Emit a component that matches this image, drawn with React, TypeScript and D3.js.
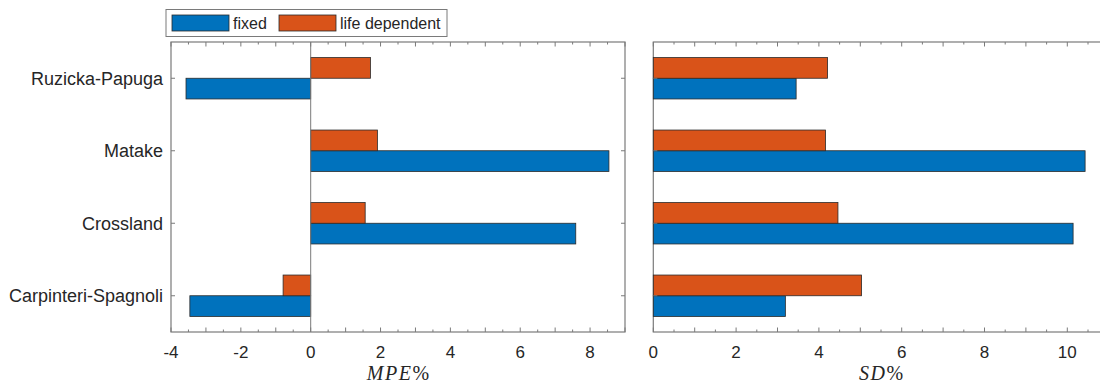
import * as d3 from "d3"

// data
const categories = ["Carpinteri-Spagnoli", "Crossland", "Matake", "Ruzicka-Papuga"]
const seriesNames = ["fixed", "life dependent"]
const mpeFixed = [-3.46, 7.59, 8.54, -3.57]
const mpeLife = [-0.79, 1.56, 1.91, 1.71]
const sdFixed = [3.19, 10.14, 10.43, 3.45]
const sdLife = [5.03, 4.46, 4.16, 4.21]
const mpeTicks = [-4, -2, 0, 2, 4, 6, 8]
const sdTicks = [0, 2, 4, 6, 8, 10]

const colors = ["#0072BD", "#D95319"]
const axisColor = "#7a7a7a"
const W = 1100
const H = 386
const top = 42
const bottom = 332

function Panel({x0, x1, domain, ticks, fixed, life, label, showCats}: any) {
    const x = d3.scaleLinear().domain(domain).range([x0, x1])
    const y = d3.scaleLinear().domain([0.5, 4.5]).range([bottom, top])
    const step = y(1) - y(2)
    const barH = step * 0.2857
    const minor = d3.range(domain[0], domain[1] + 0.01, 0.5)
    const vals = [fixed, life]
    const zero = x(0)

    return <g>
        <rect x={x0} y={top} width={x1 - x0} height={bottom - top} fill="white" stroke={axisColor} strokeWidth={1.2}/>
        {/* bars */}
        {vals.map((series, s) => series.map((v: number, i: number) => {
            const yc = y(i + 1)
            const yy = s === 0 ? yc : yc - barH
            return <rect key={`${s}-${i}`}
                x={Math.min(zero, x(v))} y={yy}
                width={Math.abs(x(v) - zero)} height={barH}
                fill={colors[s]} stroke="#2a2a2a" strokeWidth={0.8}/>
        }))}
        {/* baseline */}
        {domain[0] < 0 && <line x1={zero} x2={zero} y1={top} y2={bottom} stroke={axisColor} strokeWidth={1}/>}
        {/* x ticks top and bottom */}
        {minor.map(t => {
            const major = Number.isInteger(t)
            const len = major ? 4.5 : 2.5
            return <g key={t}>
                <line x1={x(t)} x2={x(t)} y1={bottom} y2={bottom - len} stroke={axisColor}/>
                <line x1={x(t)} x2={x(t)} y1={top} y2={top + len} stroke={axisColor}/>
            </g>
        })}
        {ticks.map((t: number) => <text key={t} x={x(t)} y={358} textAnchor="middle"
            fontFamily="Liberation Sans, Arial, sans-serif" fontSize={17} fill="#262626">{t}</text>)}
        {/* y ticks */}
        {categories.map((c, i) => <g key={c}>
            <line x1={x0} x2={x0 + 4} y1={y(i + 1)} y2={y(i + 1)} stroke={axisColor}/>
            <line x1={x1} x2={x1 - 4} y1={y(i + 1)} y2={y(i + 1)} stroke={axisColor}/>
            {showCats && <text x={x0 - 8} y={y(i + 1)} dy="0.35em" textAnchor="end"
                fontFamily="Liberation Sans, Arial, sans-serif" fontSize={18} fill="#262626">{c}</text>}
        </g>)}
        <text x={(x0 + x1) / 2} y={380} textAnchor="middle" fontFamily="Liberation Serif, serif" fontSize={20} fill="#262626">
            <tspan fontStyle="italic" letterSpacing={1.5}>{label}</tspan>%
        </text>
    </g>
}

export default function App() {
    return <svg width={W} height={H} style={{position: "absolute", left: 0, top: 0, background: "white"}}>
        <Panel x0={171} x1={625} domain={[-4, 9]} ticks={mpeTicks} fixed={mpeFixed} life={mpeLife} label="MPE" showCats/>
        <Panel x0={653.3} x1={1108.7} domain={[0, 11]} ticks={sdTicks} fixed={sdFixed} life={sdLife} label="SD" showCats={false}/>
        {/* legend */}
        <g>
            <rect x={166} y={9.5} width={281} height={27} fill="white" stroke={axisColor} strokeWidth={1}/>
            {seriesNames.map((n, i) => {
                const lx = i === 0 ? 172 : 279
                return <g key={n}>
                    <rect x={lx} y={15} width={57} height={16} fill={colors[i]} stroke="#2a2a2a" strokeWidth={0.8}/>
                    <text x={lx + 61} y={23} dy="0.35em" fontFamily="Liberation Sans, Arial, sans-serif"
                        fontSize={16} fill="#262626">{n}</text>
                </g>
            })}
        </g>
    </svg>
}
